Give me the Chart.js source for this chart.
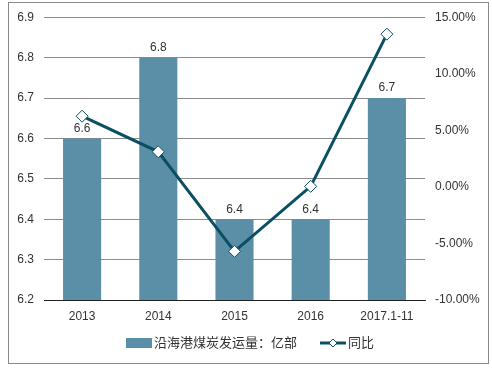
<!DOCTYPE html>
<html>
<head>
<meta charset="utf-8">
<script src="https://cdn.jsdelivr.net/npm/chart.js@4/dist/chart.umd.min.js"></script>
<style>
  html, body { margin: 0; padding: 0; background: #fff; }
  #wrap { position: relative; width: 492px; height: 372px; }
</style>
</head>
<body>
<div id="wrap"><canvas id="chart" width="492" height="372"></canvas></div>
<script>
const categories = ['2013', '2014', '2015', '2016', '2017.1-11'];
const volume = [6.6, 6.8, 6.4, 6.4, 6.7];
const yoy = [6.25, 3.1, -5.7, 0.05, 13.5];
const barLabel = '沿海港煤炭发运量：亿部';
const lineLabel = '同比';

const barColor = '#5b8fa8';
const lineColor = '#0b4f63';
const textColor = '#333333';
const latin = '"Liberation Sans", Arial, sans-serif';
const cjk = '"Liberation Sans", "Noto Sans CJK SC", sans-serif';

// border around the whole picture, value labels and the legend
const decor = {
    id: 'decor',
    afterDatasetsDraw(chart) {
        const ctx = chart.ctx;
        ctx.save();
        // bar value labels (bars are dataset 1)
        const meta = chart.getDatasetMeta(1);
        ctx.fillStyle = textColor;
        ctx.font = '12px ' + latin;
        ctx.textAlign = 'center';
        ctx.textBaseline = 'bottom';
        meta.data.forEach((bar, i) => {
            ctx.fillText(volume[i].toFixed(1), bar.x, bar.y - 4);
        });
        ctx.restore();
    },
    afterDraw(chart) {
        const ctx = chart.ctx;
        ctx.save();
        ctx.strokeStyle = '#8a8a8a';
        ctx.lineWidth = 1;
        ctx.strokeRect(8.5, 2.5, 480, 361);

        // legend
        const ly = 343;
        ctx.fillStyle = barColor;
        ctx.fillRect(126, ly - 5, 26, 10);
        ctx.fillStyle = textColor;
        ctx.font = '13px ' + cjk;
        ctx.textAlign = 'left';
        ctx.textBaseline = 'middle';
        ctx.fillText(barLabel, 154, ly);

        ctx.strokeStyle = lineColor;
        ctx.lineWidth = 3;
        ctx.beginPath();
        ctx.moveTo(320, ly);
        ctx.lineTo(346, ly);
        ctx.stroke();
        ctx.fillStyle = '#fff';
        ctx.lineWidth = 1;
        ctx.beginPath();
        ctx.moveTo(333, ly - 4);
        ctx.lineTo(337, ly);
        ctx.lineTo(333, ly + 4);
        ctx.lineTo(329, ly);
        ctx.closePath();
        ctx.fill();
        ctx.stroke();
        ctx.fillStyle = textColor;
        ctx.fillText(lineLabel, 348, ly);
        ctx.restore();
    }
};

new Chart(document.getElementById('chart'), {
    data: {
        labels: categories,
        datasets: [
            {
                type: 'line',
                label: lineLabel,
                data: yoy,
                yAxisID: 'y2',
                borderColor: lineColor,
                borderWidth: 3,
                tension: 0,
                pointStyle: 'rectRot',
                pointRadius: 6,
                pointBackgroundColor: '#ffffff',
                pointBorderColor: lineColor,
                pointBorderWidth: 1,
                order: 0
            },
            {
                type: 'bar',
                label: barLabel,
                data: volume,
                yAxisID: 'y',
                backgroundColor: barColor,
                barPercentage: 1,
                categoryPercentage: 0.5,
                order: 1
            }
        ]
    },
    options: {
        responsive: false,
        animation: false,
        layout: { padding: { left: 10, right: 4, top: 17, bottom: 40 } },
        plugins: {
            legend: { display: false },
            tooltip: { enabled: false }
        },
        scales: {
            x: {
                grid: { display: false, drawTicks: false },
                border: { display: true, color: '#222', width: 1 },
                ticks: { color: textColor, font: { family: latin, size: 12 }, padding: 9 },
                afterFit(s) { s.height = 32; }
            },
            y: {
                position: 'left',
                min: 6.2,
                max: 6.9,
                ticks: {
                    stepSize: 0.1,
                    color: textColor,
                    font: { family: latin, size: 12 },
                    padding: 10,
                    callback: v => Number(v).toFixed(1)
                },
                grid: { color: '#8c8c8c', drawTicks: false },
                border: { display: false },
                afterFit(s) { s.width = 34; }
            },
            y2: {
                position: 'right',
                min: -10,
                max: 15,
                ticks: {
                    stepSize: 5,
                    color: textColor,
                    font: { family: latin, size: 12 },
                    padding: 10,
                    callback: v => Number(v).toFixed(2) + '%'
                },
                grid: { display: false, drawTicks: false },
                border: { display: false },
                afterFit(s) { s.width = 63; }
            }
        }
    },
    plugins: [decor]
});
</script>
</body>
</html>
